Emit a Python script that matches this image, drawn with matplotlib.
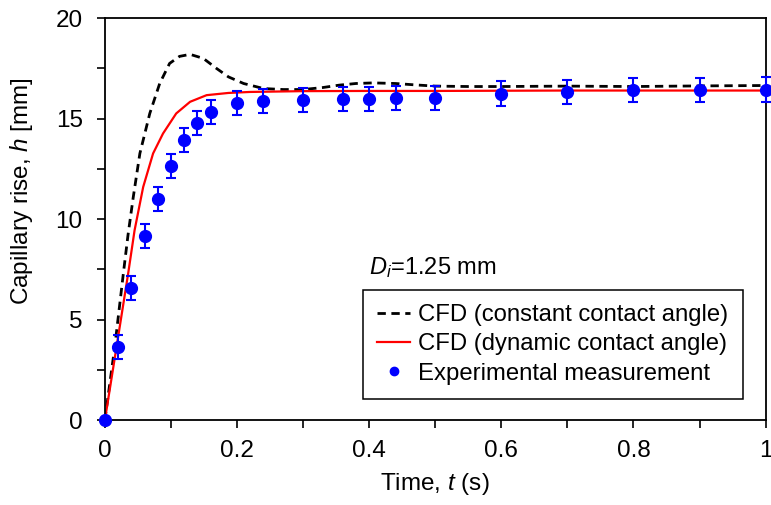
import numpy as np
import matplotlib.pyplot as plt
from matplotlib.ticker import MultipleLocator
from matplotlib.lines import Line2D

plt.rcParams['font.family'] = ['Liberation Sans', 'DejaVu Sans']
plt.rcParams['mathtext.fontset'] = 'custom'
plt.rcParams['mathtext.it'] = 'Liberation Sans:italic'
plt.rcParams['mathtext.rm'] = 'Liberation Sans'

# CFD, constant contact angle
t_const = [0, 0.015, 0.028, 0.035, 0.043, 0.053, 0.068, 0.083, 0.098, 0.113,
           0.129, 0.149, 0.169, 0.187, 0.21, 0.24, 0.27, 0.3, 0.33, 0.355,
           0.38, 0.406, 0.44, 0.47, 0.5, 0.55, 0.6, 0.7, 0.8, 0.9, 1.0]
h_const = [0, 3.65, 7.3, 9.2, 11.1, 13.27, 15.26, 16.75, 17.75, 18.1,
           18.2, 18.0, 17.5, 17.08, 16.75, 16.5, 16.45, 16.45, 16.55, 16.67,
           16.75, 16.78, 16.75, 16.68, 16.62, 16.6, 16.6, 16.62, 16.6, 16.63, 16.65]

# CFD, dynamic contact angle
t_dyn = [0, 0.0177, 0.0353, 0.045, 0.058, 0.073, 0.088, 0.108, 0.129, 0.154,
         0.187, 0.22, 0.26, 0.3, 0.4, 0.5, 0.6, 0.7, 0.8, 0.9, 1.0]
h_dyn = [0, 3.65, 7.3, 9.45, 11.6, 13.27, 14.26, 15.26, 15.84, 16.17,
         16.28, 16.33, 16.35, 16.37, 16.38, 16.38, 16.39, 16.4, 16.4, 16.4, 16.4]

# experimental measurement
t_exp = [0, 0.02, 0.04, 0.06, 0.08, 0.10, 0.12, 0.14, 0.16, 0.20, 0.24,
         0.30, 0.36, 0.40, 0.44, 0.50, 0.60, 0.70, 0.80, 0.90, 1.00]
h_exp = [0, 3.65, 6.58, 9.15, 11.0, 12.64, 13.93, 14.8, 15.34, 15.76, 15.9,
         15.95, 16.0, 16.0, 16.02, 16.05, 16.25, 16.33, 16.42, 16.42, 16.45]
err_exp = [0, 0.6, 0.6, 0.6, 0.6, 0.6, 0.6, 0.6, 0.6, 0.6, 0.6,
           0.6, 0.6, 0.6, 0.6, 0.6, 0.6, 0.6, 0.6, 0.6, 0.6]

x_ticks = [0, 0.2, 0.4, 0.6, 0.8, 1]
x_labels = ['0', '0.2', '0.4', '0.6', '0.8', '1']
y_ticks = [0, 5, 10, 15, 20]

fig = plt.figure(figsize=(7.71, 5.05), dpi=100)
ax = fig.add_axes([0.136, 0.168, 0.857, 0.796])

ax.plot(t_const, h_const, color='black', linestyle=(0, (3, 2)), linewidth=2,
        label='CFD (constant contact angle)')
ax.plot(t_dyn, h_dyn, color='red', linewidth=1.6,
        label='CFD (dynamic contact angle)')
ax.errorbar(t_exp, h_exp, yerr=err_exp, fmt='o', color='blue', ms=8.5,
            elinewidth=1.5, capsize=3.6, capthick=1.5, clip_on=False,
            label='Experimental measurement', zorder=3)

ax.set_xlim(0, 1)
ax.set_ylim(0, 20)
ax.set_xticks(x_ticks, labels=x_labels)
ax.set_yticks(y_ticks)
ax.xaxis.set_minor_locator(MultipleLocator(0.1))
ax.yaxis.set_minor_locator(MultipleLocator(2.5))
ax.tick_params(which='both', direction='out', labelsize=17.5, width=1.2, length=6)
ax.tick_params(axis='x', pad=8)
ax.tick_params(axis='y', pad=10)
for s in ax.spines.values():
    s.set_linewidth(1.3)

ax.set_xlabel('Time, $t$ (s)', fontsize=17.5, labelpad=7)
ax.set_ylabel('Capillary rise, $h$ [mm]', fontsize=17.5)
ax.yaxis.set_label_coords(-0.106, 0.57)

ax.text(0.40, 7.6, '$D_i$=1.25 mm', fontsize=17, va='center', ha='left')

handles, labels = ax.get_legend_handles_labels()
handles[2] = Line2D([], [], marker='o', color='blue', linestyle='none', ms=6)
leg = ax.legend(handles, labels, loc='lower right', bbox_to_anchor=(0.9657, 0.0515),
                borderaxespad=0, fontsize=17.2, frameon=True, fancybox=False,
                edgecolor='black', handlelength=1.35, handletextpad=0.35,
                borderpad=0.62, labelspacing=0.3, framealpha=1)
leg.get_frame().set_linewidth(1.1)

fig.savefig('out.png', dpi=100)
